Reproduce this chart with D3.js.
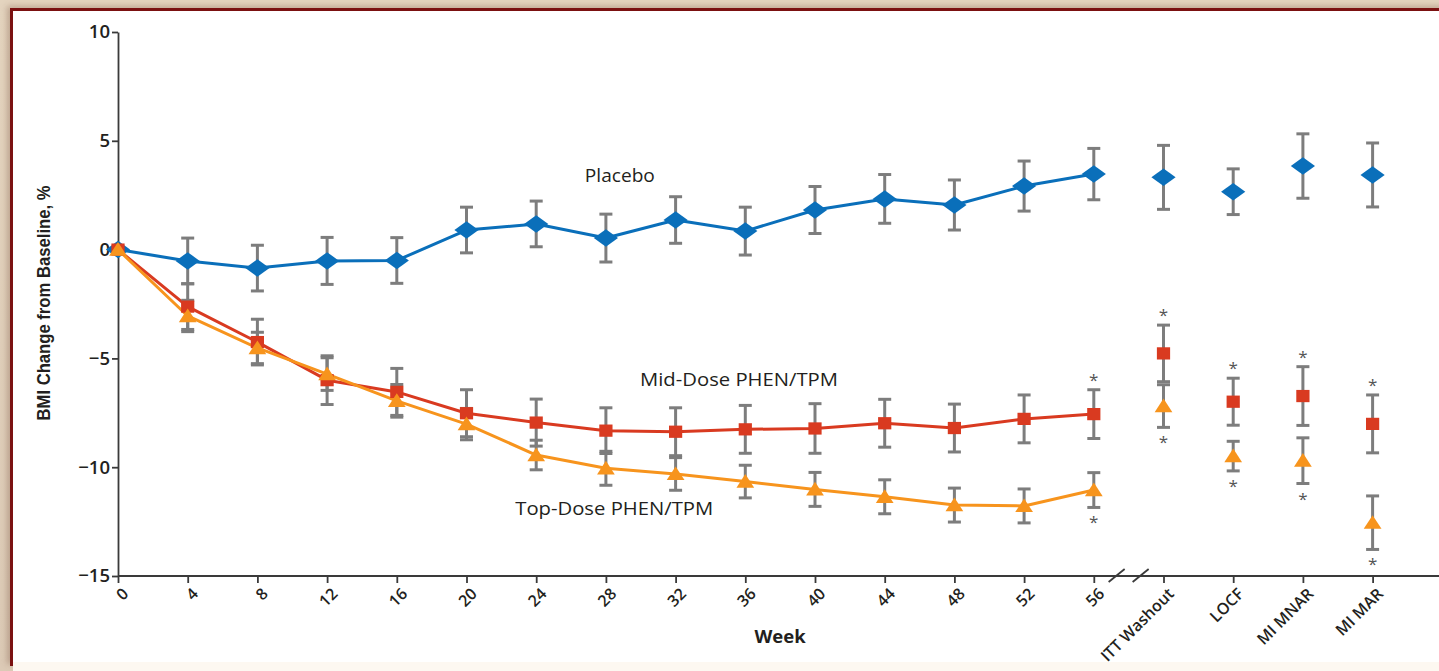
<!DOCTYPE html>
<html>
<head>
<meta charset="utf-8">
<script src="https://cdn.jsdelivr.net/npm/d3@7"></script>
<style>
  html, body { margin: 0; padding: 0; width: 1439px; height: 671px; overflow: hidden;
    background: linear-gradient(180deg, #e4d4bf 0%, #dccab6 100%); }
  #frame { position: absolute; left: 10px; top: 8px; width: 1500px; height: 655px;
    background: #ffffff; border-left: 3px solid #7b1111; border-top: 3px solid #7b1111;
    box-shadow: -3px -2px 6px rgba(120,80,60,0.35); }
  #bottom { position: absolute; left: 13px; top: 662px; width: 1500px; height: 9px; background: #fdf8f1; }
  #chart { position: absolute; left: 0; top: 0; }
  text { font-family: "Open Sans", "Noto Sans", sans-serif; fill: #231f20; }
</style>
</head>
<body>
<div id="frame"></div>
<div id="bottom"></div>
<div id="chart"></div>
<script>
// ---------------- data ----------------
const weekLabels = ["0","4","8","12","16","20","24","28","32","36","40","44","48","52","56"];
const analysisLabels = ["ITT Washout","LOCF","MI MNAR","MI MAR"];
const yTickValues = [-15, -10, -5, 0, 5, 10];

const placeboMean = [0, -0.52, -0.85, -0.52, -0.50, 0.90, 1.18, 0.53, 1.36, 0.85, 1.82, 2.33, 2.05, 2.92, 3.47];
const placeboErr  = [0, 1.05, 1.05, 1.08, 1.05, 1.05, 1.05, 1.10, 1.07, 1.10, 1.08, 1.12, 1.15, 1.15, 1.18];
const placeboPost    = [3.32, 2.66, 3.84, 3.43];
const placeboPostErr = [1.47, 1.05, 1.48, 1.47];

const midMean = [0, -2.62, -4.25, -6.00, -6.54, -7.52, -7.95, -8.32, -8.37, -8.26, -8.22, -7.98, -8.20, -7.78, -7.56];
const midErr  = [0, 1.05, 1.05, 1.12, 1.08, 1.08, 1.08, 1.05, 1.10, 1.10, 1.14, 1.10, 1.10, 1.10, 1.12];
const midPost    = [-4.77, -6.99, -6.73, -8.01];
const midPostErr = [1.30, 1.08, 1.35, 1.33];

const topMean = [0, -3.05, -4.52, -5.72, -6.95, -8.02, -9.44, -10.05, -10.31, -10.66, -11.02, -11.36, -11.74, -11.78, -11.05];
const topErr  = [0, 0.72, 0.72, 0.75, 0.75, 0.72, 0.68, 0.78, 0.75, 0.75, 0.78, 0.78, 0.78, 0.78, 0.80];
const topPost    = [-7.19, -9.49, -9.70, -12.55];
const topPostErr = [0.98, 0.68, 1.05, 1.23];

// categories with a significance asterisk (above mid-dose bar, below top-dose bar)
const midStars = ["56","ITT Washout","LOCF","MI MNAR","MI MAR"];
const topStars = ["56","ITT Washout","LOCF","MI MNAR","MI MAR"];

const seriesLabels = [
  { text: "Placebo",           pos: 7.2,  value: 3.1 },
  { text: "Mid-Dose PHEN/TPM", pos: 8.91, value: -6.27 },
  { text: "Top-Dose PHEN/TPM", pos: 7.12, value: -12.2 }
];

// ---------------- build ----------------
const W = 1439, H = 671;
const categories = weekLabels.concat(analysisLabels);
const colors = { placebo: "#0a6fba", mid: "#d93a20", top: "#f7941d" };
const labelWidths = { "Placebo": 70, "Mid-Dose PHEN/TPM": 198, "Top-Dose PHEN/TPM": 198 };

function build(mean, err, post, postErr) {
  const pts = weekLabels.map((c, i) => ({ cat: c, v: mean[i], e: err[i] }));
  const postPts = analysisLabels.map((c, i) => ({ cat: c, v: post[i], e: postErr[i] }));
  return { line: pts, all: pts.concat(postPts) };
}
const series = [
  { key: "placebo", ...build(placeboMean, placeboErr, placeboPost, placeboPostErr) },
  { key: "mid",     ...build(midMean, midErr, midPost, midPostErr) },
  { key: "top",     ...build(topMean, topErr, topPost, topPostErr) }
];

const x = d3.scalePoint().domain(categories).range([118, 1372.6]);
const xi = d3.scaleLinear().domain([0, categories.length - 1]).range(x.range());
const y = d3.scaleLinear().domain([-15, 10]).range([576, 32]);

const svg = d3.select("#chart").append("svg").attr("width", W).attr("height", H);

// y axis
const yAxis = svg.append("g").attr("transform", `translate(${x.range()[0]},0)`)
  .call(d3.axisLeft(y).tickValues(yTickValues).tickSize(6).tickSizeOuter(0)
        .tickFormat(d => d < 0 ? "\u2212" + Math.abs(d) : String(d)));
yAxis.selectAll("path, line").attr("stroke", "#3a3a3a").attr("stroke-width", 1.8);
yAxis.selectAll("text").attr("font-size", 18.5).attr("fill", "#231f20")
  .style("font-family", "'Open Sans', sans-serif").style("font-weight", 600).attr("x", -8);

// x axis
const xAxis = svg.append("g").attr("transform", `translate(0,${y.range()[0]})`)
  .call(d3.axisBottom(x).tickSize(7).tickSizeOuter(0));
xAxis.select(".domain").remove();
xAxis.append("line").attr("x1", x.range()[0]).attr("x2", W).attr("y1", 0).attr("y2", 0)
  .attr("stroke", "#3a3a3a").attr("stroke-width", 1.8);
xAxis.selectAll("line").attr("stroke", "#3a3a3a").attr("stroke-width", 1.8);
xAxis.selectAll(".tick text")
  .attr("font-size", 16).attr("fill", "#231f20").style("font-family", "'Open Sans', sans-serif")
  .style("font-weight", 600)
  .attr("text-anchor", "end").attr("x", 0).attr("y", 0).attr("dx", -2).attr("dy", "0.75em")
  .attr("transform", "translate(4,9) rotate(-45)");

// axis break marks
const bx = (x("56") + x("ITT Washout")) / 2;
[-12, 12].forEach(o => {
  svg.append("line")
    .attr("x1", bx + o - 8).attr("y1", y.range()[0] + 6)
    .attr("x2", bx + o + 8).attr("y2", y.range()[0] - 7)
    .attr("stroke", "#3a3a3a").attr("stroke-width", 1.8);
});

// lines
const line = d3.line().x(d => x(d.cat)).y(d => y(d.v));
series.forEach(s => {
  svg.append("path").datum(s.line).attr("d", line)
    .attr("fill", "none").attr("stroke", colors[s.key]).attr("stroke-width", 3)
    .attr("stroke-linejoin", "round");
});

// error bars
const capW = 6.5;
series.forEach(s => {
  const g = svg.append("g").attr("stroke", "#7d7d7d").attr("stroke-width", 3);
  s.all.filter(d => d.e > 0).forEach(d => {
    const cx = x(d.cat), y1 = y(d.v + d.e), y2 = y(d.v - d.e);
    g.append("line").attr("x1", cx).attr("x2", cx).attr("y1", y1).attr("y2", y2);
    g.append("line").attr("x1", cx - capW).attr("x2", cx + capW).attr("y1", y1).attr("y2", y1);
    g.append("line").attr("x1", cx - capW).attr("x2", cx + capW).attr("y1", y2).attr("y2", y2);
  });
});

// markers
const wideDiamond = { draw(ctx, size) { const h = Math.sqrt(size) * 0.62, w = h * 1.38;
  ctx.moveTo(0, -h); ctx.lineTo(w, 0); ctx.lineTo(0, h); ctx.lineTo(-w, 0); ctx.closePath(); } };
const wideSquare = { draw(ctx, size) { const h = Math.sqrt(size) / 2, w = h * 1.08;
  ctx.moveTo(-w, -h); ctx.lineTo(w, -h); ctx.lineTo(w, h); ctx.lineTo(-w, h); ctx.closePath(); } };
const tri = { draw(ctx, size) { const s = Math.sqrt(size); const w = s * 0.75, h = s * 0.58;
  ctx.moveTo(0, -h * 1.1); ctx.lineTo(w, h * 0.9); ctx.lineTo(-w, h * 0.9); ctx.closePath(); } };
const symbols = {
  placebo: d3.symbol().type(wideDiamond).size(200),
  mid: d3.symbol().type(wideSquare).size(150),
  top: d3.symbol().type(tri).size(140)
};
series.forEach(s => {
  svg.append("g").selectAll("path").data(s.all).join("path")
    .attr("transform", d => `translate(${x(d.cat)},${y(d.v)})`)
    .attr("d", symbols[s.key]).attr("fill", colors[s.key]);
});

// asterisks
const midAll = series[1].all, topAll = series[2].all;
midStars.forEach(c => {
  const d = midAll.find(p => p.cat === c);
  svg.append("text").attr("x", x(c)).attr("y", y(d.v + d.e) - 13 + 9)
    .attr("text-anchor", "middle").attr("font-size", 17).style("fill", "#555").text("*");
});
topStars.forEach(c => {
  const d = topAll.find(p => p.cat === c);
  svg.append("text").attr("x", x(c)).attr("y", y(d.v - d.e) + 12 + 9)
    .attr("text-anchor", "middle").attr("font-size", 17).style("fill", "#555").text("*");
});

// series labels
svg.append("g").selectAll("text").data(seriesLabels).join("text")
  .attr("x", d => xi(d.pos)).attr("y", d => y(d.value))
  .attr("text-anchor", "middle").attr("font-size", 18.5).attr("fill", "#231f20")
  .attr("textLength", d => labelWidths[d.text]).attr("lengthAdjust", "spacingAndGlyphs")
  .text(d => d.text);

// axis titles
svg.append("text").attr("transform", `translate(49.5,${(y.range()[0] + y.range()[1]) / 2 - 1}) rotate(-90)`)
  .attr("text-anchor", "middle").attr("font-weight", "bold").attr("font-size", 19)
  .style("font-family", "'Liberation Sans Narrow', 'Arial Narrow', 'Liberation Sans', sans-serif")
  .attr("textLength", 235).attr("lengthAdjust", "spacingAndGlyphs")
  .text("BMI Change from Baseline, %");
svg.append("text").attr("x", 780).attr("y", 643).attr("text-anchor", "middle")
  .attr("font-weight", "bold").attr("font-size", 18.5).text("Week");
</script>
</body>
</html>
